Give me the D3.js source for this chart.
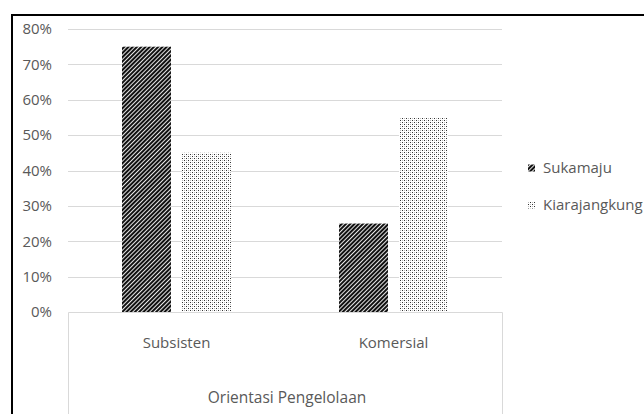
<!DOCTYPE html>
<html>
<head>
<meta charset="utf-8">
<script src="https://cdn.jsdelivr.net/npm/d3@7"></script>
<style>
  html, body { margin: 0; padding: 0; background: #fff; }
  svg { display: block; }
  text { font-family: "Open Sans", sans-serif; fill: #595959; }
</style>
</head>
<body>
<svg id="chart" width="644" height="414"></svg>
<script>
// Management orientation share per village
const categories = ["Subsisten", "Komersial"];
const seriesNames = ["Sukamaju", "Kiarajangkung"];
const sukamaju = [0.75, 0.25];
const kiarajangkung = [0.45, 0.55];
const yTicks = [0, 0.1, 0.2, 0.3, 0.4, 0.5, 0.6, 0.7, 0.8];
const axisTitle = "Orientasi Pengelolaan";

const series = [
  { name: seriesNames[0], values: sukamaju, fill: "url(#hatch)" },
  { name: seriesNames[1], values: kiarajangkung, fill: "url(#dots)" }
];

const svg = d3.select("#chart");

// fill patterns
const defs = svg.append("defs");
const hatch = defs.append("pattern")
  .attr("id", "hatch").attr("patternUnits", "userSpaceOnUse")
  .attr("width", 3).attr("height", 3)
  .attr("patternTransform", "rotate(45)");
hatch.append("rect").attr("width", 3).attr("height", 3).attr("fill", "#fff");
hatch.append("rect").attr("width", 2.1).attr("height", 3).attr("fill", "#111");

const dots = defs.append("pattern")
  .attr("id", "dots").attr("patternUnits", "userSpaceOnUse")
  .attr("width", 4).attr("height", 4);
dots.append("rect").attr("width", 4).attr("height", 4).attr("fill", "#fff");
dots.append("rect").attr("x", 0).attr("y", 0).attr("width", 1).attr("height", 1).attr("fill", "#333");
dots.append("rect").attr("x", 2).attr("y", 2).attr("width", 1).attr("height", 1).attr("fill", "#333");
dots.append("rect").attr("x", 2).attr("y", 0).attr("width", 1).attr("height", 1).attr("fill", "#bbb");
dots.append("rect").attr("x", 0).attr("y", 2).attr("width", 1).attr("height", 1).attr("fill", "#bbb");

// outer frame (top and left edges)
svg.append("line").attr("x1", 11).attr("x2", 644).attr("y1", 15).attr("y2", 15)
  .attr("stroke", "#000").attr("stroke-width", 2);
svg.append("line").attr("x1", 12).attr("x2", 12).attr("y1", 14).attr("y2", 414)
  .attr("stroke", "#000").attr("stroke-width", 2);

const plot = { left: 68, right: 502, top: 29, bottom: 312 };

const x0 = d3.scaleBand().domain(categories).range([plot.left, plot.right]).padding(0);
const y = d3.scaleLinear().domain([0, 0.8]).range([plot.bottom, plot.top]);

// gridlines
svg.append("g")
  .selectAll("line").data(yTicks.filter(t => t > 0)).join("line")
  .attr("x1", plot.left).attr("x2", plot.right)
  .attr("y1", d => Math.round(y(d)) + 0.5).attr("y2", d => Math.round(y(d)) + 0.5)
  .attr("stroke", "#d9d9d9").attr("stroke-width", 1);

// y axis labels
const yAxis = d3.axisLeft(y).tickValues(yTicks).tickFormat(d3.format(".0%")).tickSize(0).tickPadding(0);
const gy = svg.append("g").attr("transform", "translate(52,0)").call(yAxis);
gy.select(".domain").remove();
gy.selectAll("text").style("font-size", "15px").attr("fill", "#595959")
  .style("font-family", "'Open Sans', sans-serif");

// bars
const barW = 49, gap = 11;
const xs = d3.scaleOrdinal().domain(seriesNames)
  .range([-(gap / 2 + barW), gap / 2]);

series.forEach(s => {
  svg.append("g").selectAll("rect").data(categories).join("rect")
    .attr("x", (c) => x0(c) + x0.bandwidth() / 2 + xs(s.name))
    .attr("width", barW)
    .attr("y", (c, i) => y(s.values[i]))
    .attr("height", (c, i) => y(0) - y(s.values[i]))
    .attr("fill", s.fill);
});

// category axis box
const axisG = svg.append("g");
axisG.append("path")
  .attr("d", `M${plot.left + 0.5},414 V${plot.bottom + 0.5} H${plot.right + 0.5} V414`)
  .attr("fill", "none").attr("stroke", "#d9d9d9").attr("stroke-width", 1);

axisG.selectAll("text.cat").data(categories).join("text")
  .attr("class", "cat")
  .attr("x", d => x0(d) + x0.bandwidth() / 2)
  .attr("y", 348)
  .attr("text-anchor", "middle")
  .style("font-size", "15px")
  .text(d => d);

axisG.append("text")
  .attr("x", (plot.left + plot.right) / 2 + 2)
  .attr("y", 403)
  .attr("text-anchor", "middle")
  .style("font-size", "15.5px")
  .text(axisTitle);

// legend
const legend = svg.append("g");
const ly = d3.scalePoint().domain(seriesNames).range([168, 205]);
legend.selectAll("rect").data(series).join("rect")
  .attr("x", 528).attr("y", d => ly(d.name) - 3.5)
  .attr("width", 7).attr("height", 7)
  .attr("fill", d => d.fill);
legend.selectAll("text").data(series).join("text")
  .attr("x", 543).attr("y", d => ly(d.name) + 5)
  .style("font-size", "15px")
  .text(d => d.name);
</script>
</body>
</html>
